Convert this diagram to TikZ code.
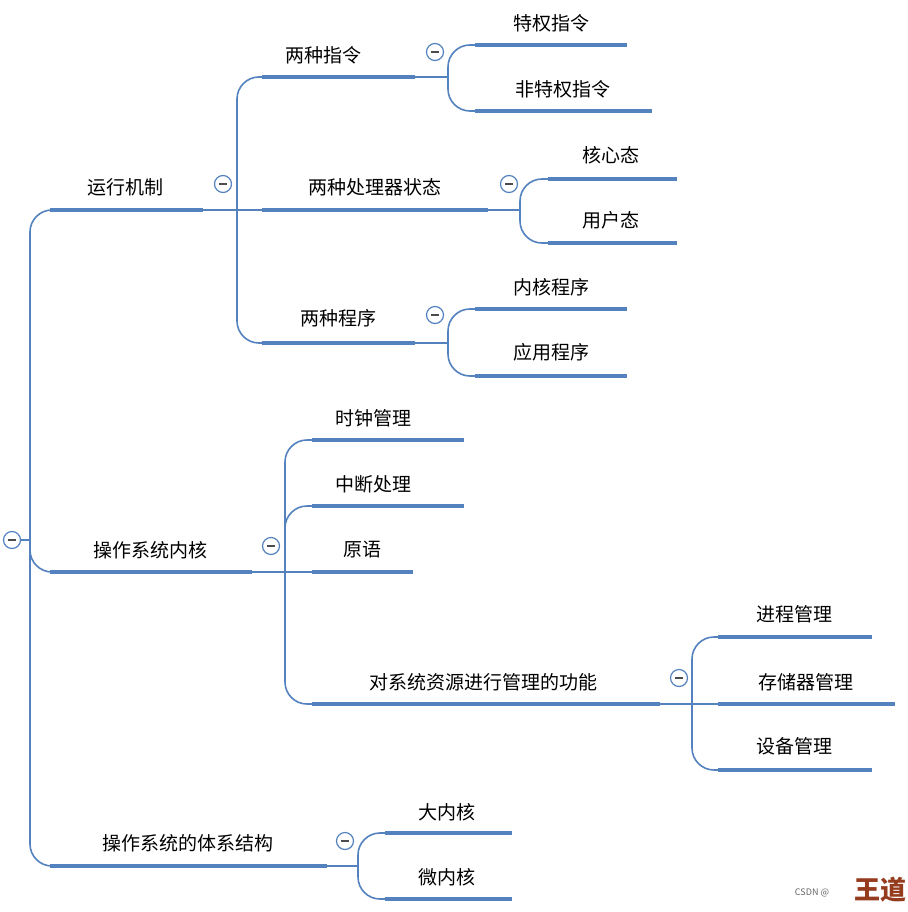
\documentclass[tikz,border=0pt]{standalone}
\usepackage{fontspec}
\setmainfont{Noto Sans CJK SC}
\begin{document}
\begin{tikzpicture}[x=1pt,y=-1pt,
  ul/.style={draw=lineblue,line width=4pt},
  cn/.style={draw=lineblue,line width=1.6pt,rounded corners=22pt},
  sl/.style={draw=lineblue,line width=1.6pt},
  lbl/.style={font=\fontsize{19}{22}\selectfont,text=black,inner sep=0},
  mc/.style={circle,draw=lineblue,line width=1.2pt,fill=white,minimum size=17pt,inner sep=0,
    path picture={\draw[line width=1.3pt,black!70] ([xshift=-4pt]path picture bounding box.center)--([xshift=4pt]path picture bounding box.center);}}]
\definecolor{lineblue}{RGB}{84,130,190}
\useasboundingbox[fill=white] (0,0) rectangle (907,912);
% root
\draw[sl] (21,540) -- (30,540);
\draw[cn] (30,540) |- (50,210);
\draw[cn] (30,540) |- (50,866);
\draw[cn] (30,540) |- (50,572);
\node[mc] (root) at (12,540) {};
% level 1
\draw[ul] (50,210) -- (203,210); \node[lbl] (a) at (125,187) {运行机制};
\draw[ul] (50,572) -- (252,572); \node[lbl] (b) at (150,550) {操作系统内核};
\draw[ul] (50,866) -- (327,866); \node[lbl] (c) at (188,843) {操作系统的体系结构};
% 运行机制
\draw[sl] (203,210) -- (262,210);
\draw[cn] (237,210) |- (262,77);
\draw[cn] (237,210) |- (262,343);
\node[mc] at (223,184) {};
\draw[ul] (262,77) -- (415,77); \node[lbl] at (323,55) {两种指令};
\draw[ul] (262,210) -- (488,210); \node[lbl] at (375,187) {两种处理器状态};
\draw[ul] (262,343) -- (415,343); \node[lbl] at (338,318) {两种程序};
% 两种指令
\draw[sl] (415,77) -- (448,77);
\draw[cn] (448,77) |- (475,45);
\draw[cn] (448,77) |- (475,111);
\node[mc] at (435,52) {};
\draw[ul] (475,45) -- (627,45); \node[lbl] at (551,23) {特权指令};
\draw[ul] (475,111) -- (652,111); \node[lbl] at (563,89) {非特权指令};
% 处理器状态
\draw[sl] (488,210) -- (520,210);
\draw[cn] (520,210) |- (548,179);
\draw[cn] (520,210) |- (548,243);
\node[mc] at (509,184) {};
\draw[ul] (548,179) -- (677,179); \node[lbl] at (611,155) {核心态};
\draw[ul] (548,243) -- (677,243); \node[lbl] at (611,220) {用户态};
% 两种程序
\draw[sl] (415,343) -- (448,343);
\draw[cn] (448,343) |- (475,309);
\draw[cn] (448,343) |- (475,376);
\node[mc] at (435,315) {};
\draw[ul] (475,309) -- (627,309); \node[lbl] at (551,287) {内核程序};
\draw[ul] (475,376) -- (627,376); \node[lbl] at (551,352) {应用程序};
% 内核
\draw[sl] (252,572) -- (312,572);
\draw[cn] (285,572) |- (312,440);
\draw[cn] (285,572) |- (312,506);
\draw[cn] (285,572) |- (312,704);
\node[mc] at (271,546) {};
\draw[ul] (312,440) -- (464,440); \node[lbl] at (373,418) {时钟管理};
\draw[ul] (312,506) -- (464,506); \node[lbl] at (373,484) {中断处理};
\draw[ul] (312,572) -- (413,572); \node[lbl] at (362,550) {原语};
\draw[ul] (312,704) -- (660,704); \node[lbl] at (483,682) {对系统资源进行管理的功能};
% 资源管理
\draw[sl] (660,704) -- (718,704);
\draw[cn] (692,704) |- (718,637);
\draw[cn] (692,704) |- (718,770);
\node[mc] at (679,678) {};
\draw[ul] (718,637) -- (872,637); \node[lbl] at (794,614) {进程管理};
\draw[ul] (718,704) -- (895,704); \node[lbl] at (806,682) {存储器管理};
\draw[ul] (718,770) -- (872,770); \node[lbl] at (794,746) {设备管理};
% 体系结构
\draw[sl] (327,866) -- (358,866);
\draw[cn] (358,866) |- (385,833);
\draw[cn] (358,866) |- (385,899);
\node[mc] at (345,841) {};
\draw[ul] (385,833) -- (512,833); \node[lbl] at (447,812) {大内核};
\draw[ul] (385,899) -- (512,899); \node[lbl] at (447,877) {微内核};
% watermark
\node[font=\fontsize{9}{10}\selectfont,text=black!60,inner sep=0] at (812,893) {CSDN @};
\node[font=\fontsize{26}{28}\selectfont\bfseries,text={rgb,255:red,150;green,60;blue,30},inner sep=0] at (880,890) {王道};
\end{tikzpicture}
\end{document}
